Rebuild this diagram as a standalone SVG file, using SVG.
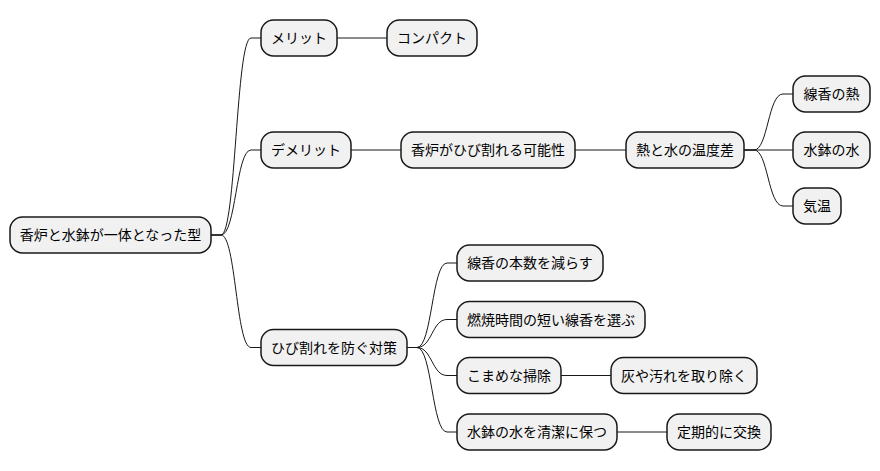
<svg xmlns="http://www.w3.org/2000/svg" width="880" height="471" viewBox="0 0 880 471">
<style>
.n rect{fill:#F1F1F1;stroke:#181818;stroke-width:1.5}
.n text{font-family:"Noto Sans CJK JP","Noto Sans",sans-serif;font-size:14px;fill:#000;text-anchor:middle}
.c path{fill:none;stroke:#181818;stroke-width:1}
</style>
<rect width="880" height="471" fill="#fff"/>
<g class="c">
<path d="M211,235 L221,235 C236,235 236,38 251,38 L261,38"/>
<path d="M211,235 L221,235 C236,235 236,150 251,150 L261,150"/>
<path d="M211,235 L221,235 C236,235 236,347.5 251,347.5 L261,347.5"/>
<path d="M337,38 L387,38"/>
<path d="M351,150 L401,150"/>
<path d="M575,150 L626,150"/>
<path d="M744,150 L754,150 C768,150 768,94 783,94 L793,94"/>
<path d="M744,150 L793,150"/>
<path d="M744,150 L754,150 C768,150 768,206 783,206 L793,206"/>
<path d="M407,347.5 L417,347.5 C432,347.5 432,263 447,263 L457,263"/>
<path d="M407,347.5 L417,347.5 C432,347.5 432,319.5 447,319.5 L457,319.5"/>
<path d="M407,347.5 L417,347.5 C432,347.5 432,375.5 447,375.5 L457,375.5"/>
<path d="M407,347.5 L417,347.5 C432,347.5 432,432 447,432 L457,432"/>
<path d="M561,375.5 L611,375.5"/>
<path d="M617,432 L667,432"/>
</g>
<g id="root" class="n"><rect x="10" y="217" width="201" height="36" rx="12.5"/><text x="110.5" y="240">香炉と水鉢が一体となった型</text></g>
<g id="merit" class="n"><rect x="261" y="20" width="76" height="36" rx="12.5"/><text x="299" y="43">メリット</text></g>
<g id="compact" class="n"><rect x="387" y="20" width="90" height="36" rx="12.5"/><text x="432" y="43">コンパクト</text></g>
<g id="demerit" class="n"><rect x="261" y="132" width="90" height="36" rx="12.5"/><text x="306" y="155">デメリット</text></g>
<g id="crack" class="n"><rect x="401" y="132" width="174" height="36" rx="12.5"/><text x="488" y="155">香炉がひび割れる可能性</text></g>
<g id="tempdiff" class="n"><rect x="626" y="132" width="118" height="36" rx="12.5"/><text x="685" y="155">熱と水の温度差</text></g>
<g id="heat" class="n"><rect x="793" y="76" width="77" height="36" rx="12.5"/><text x="831.5" y="99">線香の熱</text></g>
<g id="water" class="n"><rect x="793" y="132" width="77" height="36" rx="12.5"/><text x="831.5" y="155">水鉢の水</text></g>
<g id="air" class="n"><rect x="793" y="188" width="48" height="36" rx="12.5"/><text x="817" y="211">気温</text></g>
<g id="measures" class="n"><rect x="261" y="329.5" width="146" height="36" rx="12.5"/><text x="334" y="352.5">ひび割れを防ぐ対策</text></g>
<g id="fewer" class="n"><rect x="457" y="245" width="146" height="36" rx="12.5"/><text x="530" y="268">線香の本数を減らす</text></g>
<g id="short" class="n"><rect x="457" y="301.5" width="188" height="36" rx="12.5"/><text x="551" y="324.5">燃焼時間の短い線香を選ぶ</text></g>
<g id="clean" class="n"><rect x="457" y="357.5" width="104" height="36" rx="12.5"/><text x="509" y="380.5">こまめな掃除</text></g>
<g id="ash" class="n"><rect x="611" y="357.5" width="146" height="36" rx="12.5"/><text x="684" y="380.5">灰や汚れを取り除く</text></g>
<g id="keep" class="n"><rect x="457" y="414" width="160" height="36" rx="12.5"/><text x="537" y="437">水鉢の水を清潔に保つ</text></g>
<g id="replace" class="n"><rect x="667" y="414" width="104" height="36" rx="12.5"/><text x="719" y="437">定期的に交換</text></g>
</svg>
